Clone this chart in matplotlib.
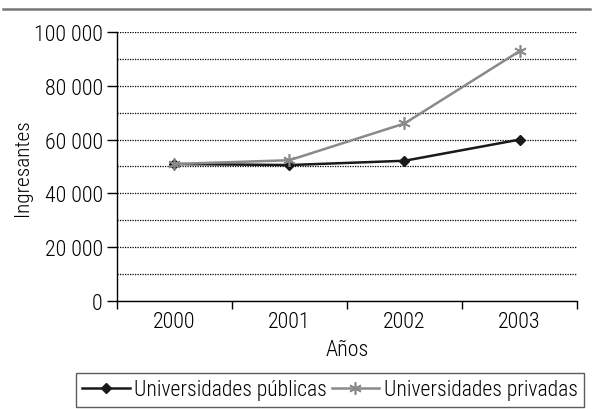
import matplotlib.pyplot as plt
from matplotlib.lines import Line2D
from matplotlib.ticker import MultipleLocator, FuncFormatter

# Data
years = ['2000', '2001', '2002', '2003']
publicas = [50900, 50500, 52100, 60000]
privadas = [50900, 52300, 66000, 93000]

plt.rcParams['font.family'] = ['Roboto Condensed', 'DejaVu Sans']
plt.rcParams['font.weight'] = 'light'
plt.rcParams['axes.labelweight'] = 'light'
FS = 15.8

fig = plt.figure(figsize=(5.92, 4.10), dpi=100)
ax = fig.add_axes([0.197, 0.2646, 0.778, 0.6542])

x = range(len(years))
ax.plot(x, publicas, color='#1a1a1a', lw=1.8, marker='D', ms=5.5,
        label='Universidades públicas', zorder=3)
ax.plot(x, privadas, color='#8a8a8a', lw=1.8, marker=(6, 2, 0), ms=9,
        mew=1.2, label='Universidades privadas', zorder=3)

ax.set_xlim(-0.5, 3.5)
ax.set_ylim(0, 100000)

# dotted gridlines every 10 000, labels every 20 000
ax.yaxis.set_major_locator(MultipleLocator(20000))
ax.yaxis.set_minor_locator(MultipleLocator(10000))
ax.yaxis.set_major_formatter(FuncFormatter(lambda v, p: f'{int(v):,}'.replace(',', ' ')))
ax.grid(axis='y', which='both', color='black', ls=(0, (1, 1)), lw=0.9)
ax.tick_params(axis='y', which='minor', length=0)
ax.tick_params(axis='y', which='major', length=7, width=1, labelsize=FS, pad=3)

ax.set_xticks(list(x))
ax.set_xticklabels(years)
ax.set_xticks([-0.5, 0.5, 1.5, 2.5, 3.5], minor=True)
ax.tick_params(axis='x', which='major', length=0, labelsize=FS, pad=7.5)
ax.tick_params(axis='x', which='minor', length=6, width=1)

for s in ['top', 'right']:
    ax.spines[s].set_visible(False)
ax.spines['left'].set_linewidth(1)
ax.spines['bottom'].set_linewidth(1)

ax.set_xlabel('Años', fontsize=FS)
ax.xaxis.set_label_coords(0.5, -0.142)
ax.set_ylabel('Ingresantes', fontsize=15.3)
ax.yaxis.set_label_coords(-0.183, 0.5)

leg = fig.legend(loc='center', bbox_to_anchor=(330 / 592, 1 - 391 / 410),
                 ncol=2, fontsize=15.6, frameon=True, fancybox=False,
                 handlelength=2.2, handletextpad=0.2, columnspacing=0.2,
                 borderpad=0.3, borderaxespad=0)
leg.get_frame().set_edgecolor('#333333')
leg.get_frame().set_linewidth(1)

# gray rule at the top
fig.add_artist(Line2D([3 / 592, 590 / 592], [1 - 9.5 / 410, 1 - 9.5 / 410],
                      color='#777777', lw=1.8))

plt.savefig('out.png', dpi=100)
plt.close()
